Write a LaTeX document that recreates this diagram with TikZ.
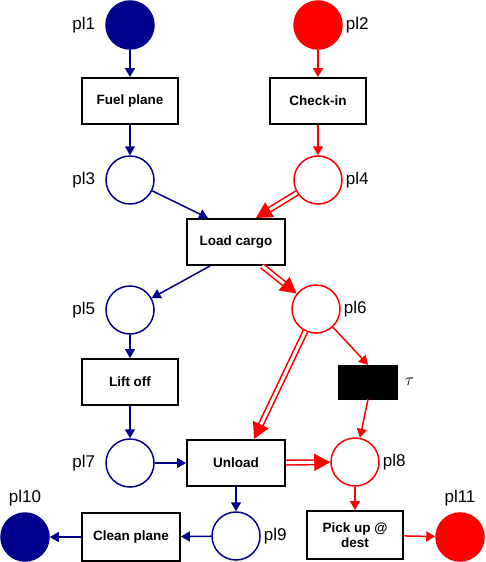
\documentclass[tikz,border=0pt]{standalone}
\usepackage{fontspec}
\setmainfont{Liberation Sans}
\usetikzlibrary{arrows.meta,calc}
\definecolor{nv}{RGB}{0,0,140}
\definecolor{rd}{RGB}{255,0,0}
\begin{document}
\begin{tikzpicture}[x=1pt,y=-1pt,
  place/.style={circle, minimum size=48pt, inner sep=0pt, line width=1.5pt, fill=white},
  trans/.style={draw=black, line width=1.9pt, minimum width=96pt, minimum height=46pt, inner sep=1pt,
    font=\bfseries\fontsize{13.5}{15}\selectfont, align=center, fill=white},
  lbl/.style={font=\fontsize{17}{20}\selectfont, inner sep=0pt},
  arr/.style={line width=1.5pt, -{Triangle[length=9pt,width=10pt]}},
  darr/.style={rd, line width=1.6pt, double=white, double distance=3pt, -{Triangle[length=16pt,width=17pt]}}
]
\useasboundingbox (0,0) rectangle (486,562);
% places
\node[place, draw=nv, fill=nv, label={[lbl,label distance=10pt]left:pl1}] (pl1) at (130,25) {};
\node[place, draw=rd, fill=rd, label={[lbl,label distance=3pt]right:pl2}] (pl2) at (318,25) {};
\node[place, draw=nv, label={[lbl,label distance=10pt]left:pl3}] (pl3) at (130,180) {};
\node[place, draw=rd, label={[lbl,label distance=3pt]right:pl4}] (pl4) at (318,180) {};
\node[place, draw=nv, label={[lbl,label distance=10pt]left:pl5}] (pl5) at (130,310) {};
\node[place, draw=rd, label={[lbl,label distance=3pt]right:pl6}] (pl6) at (316,309) {};
\node[place, draw=nv, label={[lbl,label distance=10pt]left:pl7}] (pl7) at (130,463) {};
\node[place, draw=rd, label={[lbl,label distance=3pt]right:pl8}] (pl8) at (355,462) {};
\node[place, draw=nv, label={[lbl,label distance=3pt]right:pl9}] (pl9) at (236,536) {};
\node[place, draw=nv, fill=nv, label={[lbl,label distance=6pt]above:pl10}] (pl10) at (25,537) {};
\node[place, draw=rd, fill=rd, label={[lbl,label distance=6pt]above:pl11}] (pl11) at (460,537) {};
% transitions
\node[trans] (fuel) at (130,101) {Fuel plane};
\node[trans] (chk) at (318,101) {Check-in};
\node[trans, minimum width=98pt] (lc) at (236,242) {Load cargo};
\node[trans] (lift) at (130,382) {Lift off};
\node[draw=black, fill=black, minimum width=59pt, minimum height=34pt, inner sep=0pt,
  label={[font=\fontsize{17}{20}\selectfont, inner sep=0pt, label distance=7pt]right:$\tau$}] (tau) at (368,382) {};
\node[trans, minimum width=98pt] (ul) at (236,463) {Unload};
\node[trans, minimum width=98pt, minimum height=48pt] (clean) at (131,537) {Clean plane};
\node[trans, minimum height=48pt] (pick) at (355,535) {Pick up @\\dest};
% arcs
\draw[arr, nv] (pl1) -- (fuel);
\draw[arr, nv] (fuel) -- (pl3);
\draw[arr, rd] (pl2) -- (chk);
\draw[arr, rd] (chk) -- (pl4);
\draw[arr, nv] (pl3) -- ([xshift=22pt]lc.north west);
\draw[darr] (pl4) -- ([xshift=20pt]lc.north);
\draw[arr, nv] ([xshift=-26pt]lc.south) -- (pl5);
\draw[darr] ([xshift=26pt]lc.south) -- (pl6);
\draw[arr, nv] (pl5) -- (lift);
\draw[arr, nv] (lift) -- (pl7);
\draw[darr] (pl6) -- ([xshift=18pt]ul.north);
\draw[arr, rd] (pl6) -- (tau.north);
\draw[arr, rd] (tau.south) -- (pl8);
\draw[arr, nv] (pl7) -- (ul);
\draw[darr] (ul) -- (pl8);
\draw[arr, nv] (ul) -- (pl9);
\draw[arr, nv] (pl9) -- (clean);
\draw[arr, nv] (clean) -- (pl10);
\draw[arr, rd] (pl8) -- (pick);
\draw[arr, rd] (pick) -- (pl11);
\end{tikzpicture}
\end{document}
